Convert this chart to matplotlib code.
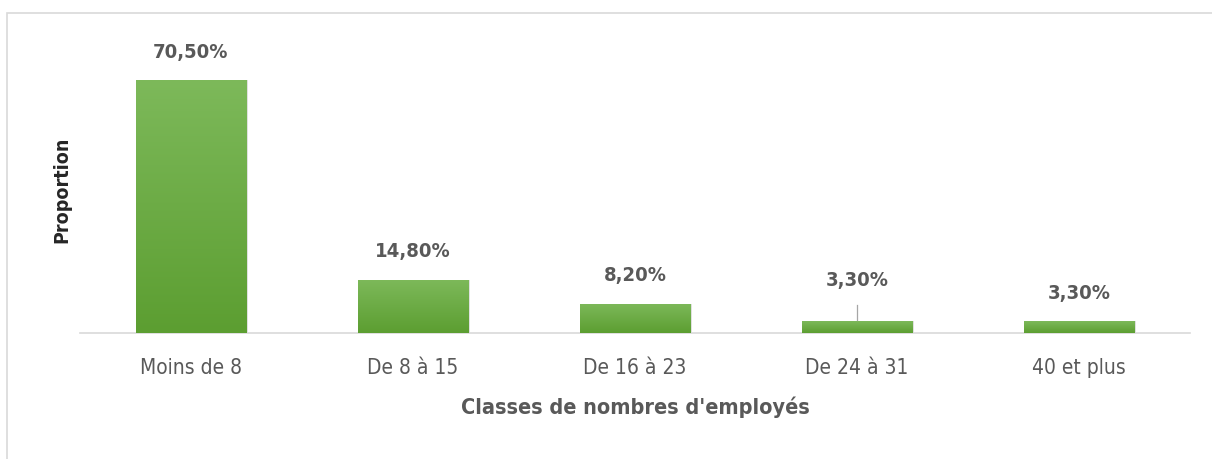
import matplotlib
matplotlib.use("Agg")
import matplotlib.pyplot as plt
import numpy as np
from matplotlib.patches import Rectangle

categories = ["Moins de 8", "De 8 à 15", "De 16 à 23", "De 24 à 31", "40 et plus"]
values = [70.5, 14.8, 8.2, 3.3, 3.3]
labels = ["70,50%", "14,80%", "8,20%", "3,30%", "3,30%"]

plt.rcParams['font.family'] = ['DejaVu Sans']
plt.rcParams['font.stretch'] = 'condensed'
grey = "#595959"

fig = plt.figure(figsize=(12.12, 4.59), dpi=100)
ax = fig.add_axes([80 / 1212, 126 / 459, 1110 / 1212, 287 / 459])

x = np.arange(len(categories))
bars = ax.bar(x, values, width=0.5, color="#6aad3d", zorder=2)

# vertical gradient inside each bar
grad = np.linspace(0, 1, 256).reshape(-1, 1)
cmap = matplotlib.colors.LinearSegmentedColormap.from_list("g", ["#5c9e31", "#7db95a"])
for b in bars:
    x0, y0 = b.get_x(), b.get_y()
    w, h = b.get_width(), b.get_height()
    im = ax.imshow(grad, extent=[x0, x0 + w, y0, y0 + h], origin="lower",
                   cmap=cmap, aspect="auto", zorder=3)
    im.set_clip_path(b)
    # soft shadow
    ax.add_patch(Rectangle((x0 + 0.006, y0), w, h, color="#000000", alpha=0.12,
                           zorder=1, lw=0))

ax.set_xlim(-0.5, len(categories) - 0.5)
ax.set_ylim(0, 80)

for i, (v, lab) in enumerate(zip(values, labels)):
    off = 7.8 if i != 3 else 11.2
    ax.text(i, v + off, lab, ha="center", va="center", fontsize=14.5,
            color=grey, fontweight="bold")
# leader line for the 4th label
ax.plot([3, 3], [values[3] + 0.2, values[3] + 4.6], color="#a6a6a6", lw=0.9, zorder=4)

ax.set_xticks(x)
ax.set_xticklabels(categories, fontsize=15, color=grey)
ax.tick_params(axis="x", length=0, pad=18)
ax.set_yticks([])
for s in ["top", "right", "left"]:
    ax.spines[s].set_visible(False)
ax.spines["bottom"].set_color("#d9d9d9")
ax.spines["bottom"].set_linewidth(1.2)

ax.set_xlabel("Classes de nombres d'employés", fontsize=15.5, fontweight="bold",
              color=grey, labelpad=13)
fig.text(62 / 1212, 1 - 190 / 459, "Proportion", rotation=90, ha="center",
         va="center", fontsize=14, fontweight="bold", color="#262626")

# chart frame
fig.patches.append(Rectangle((7 / 1212, -0.2), 1.2, 1 - 13 / 459 + 0.2,
                             transform=fig.transFigure, fill=False,
                             edgecolor="#d9d9d9", lw=1.2))

fig.savefig("out.png", dpi=100)
